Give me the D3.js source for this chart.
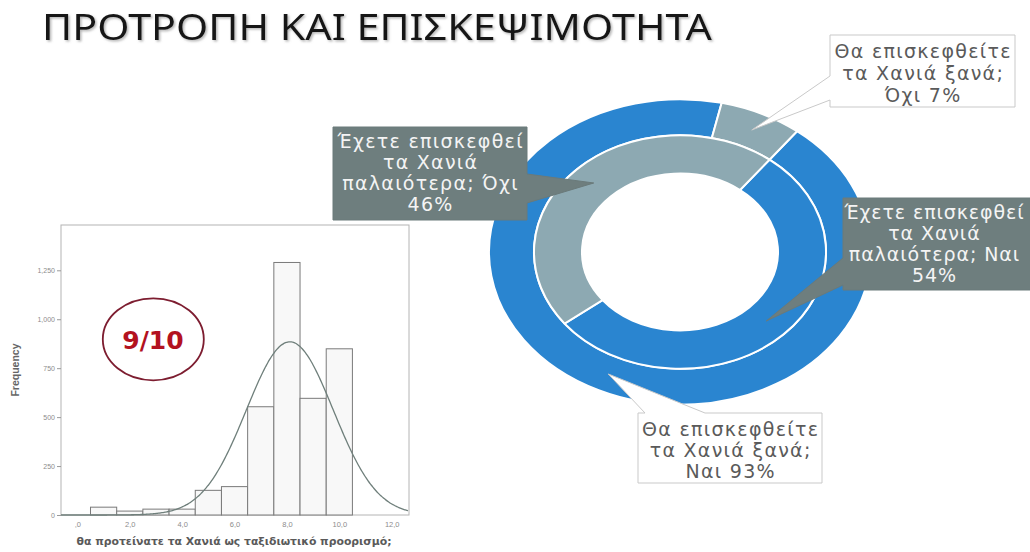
<!DOCTYPE html>
<html>
<head>
<meta charset="utf-8">
<script src="https://cdn.jsdelivr.net/npm/d3@7"></script>
<style>
  html, body { margin: 0; padding: 0; background: #ffffff; }
  svg { display: block; }
</style>
</head>
<body>
<svg id="chart" width="1030" height="552"></svg>
<script>
const titleText = "ΠΡΟΤΡΟΠΗ ΚΑΙ ΕΠΙΣΚΕΨΙΜΟΤΗΤΑ";

// Histogram: recommendation score (1–10) and number of respondents per score
const scores = [1, 2, 3, 4, 5, 6, 7, 8, 9, 10];
const frequencies = [40, 20, 30, 30, 126, 145, 553, 1290, 596, 849];
const yTickValues = [0, 250, 500, 750, 1000, 1250];
const yTickLabels = ["0", "250", "500", "750", "1,000", "1,250"];
const xTickValues = [0, 2, 4, 6, 8, 10, 12];
const xTickLabels = [",0", "2,0", "4,0", "6,0", "8,0", "10,0", "12,0"];
const xAxisTitle = "θα προτείνατε τα Χανιά ως ταξιδιωτικό προορισμό;";
const yAxisTitle = "Frequency";
const badgeText = "9/10";

// Donut rings: outer = intention to revisit, inner = previous visit
const answers = ["Ναι", "Όχι"];
const revisitShares = [93, 7];
const visitedShares = [54, 46];
const revisitQuestion = ["Θα επισκεφθείτε", "τα Χανιά ξανά;"];
const visitedQuestion = ["Έχετε επισκεφθεί", "τα Χανιά", "παλαιότερα;"];

const svg = d3.select("#chart");
const defs = svg.append("defs");

// soft drop shadow under the title
const shadow = defs.append("filter").attr("id", "titleShadow")
  .attr("x", "-5%").attr("y", "-30%").attr("width", "110%").attr("height", "160%");
shadow.append("feDropShadow").attr("dx", 1.5).attr("dy", 1.5)
  .attr("stdDeviation", 1.2).attr("flood-color", "#777").attr("flood-opacity", 0.55);

// ---------- title ----------
svg.append("text")
  .attr("x", 42).attr("y", 39.5)
  .attr("font-family", "'Noto Sans', 'Open Sans', sans-serif")
  .attr("font-size", 36)
  .attr("fill", "#161616")
  .attr("textLength", 670).attr("lengthAdjust", "spacingAndGlyphs")
  .attr("filter", "url(#titleShadow)")
  .text(titleText);

// ---------- histogram ----------
const frame = { left: 61, right: 409, top: 225, bottom: 515 };
const x = d3.scaleLinear().domain([0, 12]).range([77.4, 391.7]);
const y = d3.scaleLinear().domain([0, 1250]).range([frame.bottom, 270.3]);

const hist = svg.append("g");

hist.append("rect")
  .attr("x", frame.left).attr("y", frame.top)
  .attr("width", frame.right - frame.left).attr("height", frame.bottom - frame.top)
  .attr("fill", "#ffffff").attr("stroke", "#b4b4b4").attr("stroke-width", 1);

const bins = scores.map((s, i) => ({ score: s, freq: frequencies[i] }));
hist.selectAll("rect.bar").data(bins).enter().append("rect")
  .attr("class", "bar")
  .attr("x", d => x(d.score - 0.5))
  .attr("width", d => x(d.score + 0.5) - x(d.score - 0.5))
  .attr("y", d => y(d.freq))
  .attr("height", d => y(0) - y(d.freq))
  .attr("fill", "#f8f8f8")
  .attr("stroke", "#7a7a7a").attr("stroke-width", 1);

// fitted normal curve from the binned data
const total = d3.sum(frequencies);
const mean = d3.sum(bins, d => d.score * d.freq) / total;
const sd = Math.sqrt(d3.sum(bins, d => d.freq * (d.score - mean) ** 2) / total);
const density = v => total / (sd * Math.sqrt(2 * Math.PI)) * Math.exp(-0.5 * ((v - mean) / sd) ** 2);
const curveX = d3.range(x.invert(frame.left), x.invert(frame.right) + 0.001, 0.05);
hist.append("path")
  .datum(curveX)
  .attr("d", d3.line().x(v => x(v)).y(v => y(density(v))).curve(d3.curveBasis))
  .attr("fill", "none").attr("stroke", "#6f7f7b").attr("stroke-width", 1.3);

// y axis
const yAxis = d3.axisLeft(y).tickValues(yTickValues)
  .tickFormat((d, i) => yTickLabels[i]).tickSize(4).tickPadding(2);
const yg = hist.append("g").attr("transform", `translate(${frame.left},0)`).call(yAxis);
yg.select(".domain").remove();
yg.selectAll("line").attr("stroke", "#9a9a9a");
yg.selectAll("text").attr("fill", "#8c8c8c").attr("font-size", 7)
  .attr("font-family", "'Liberation Sans', Arial, sans-serif");

// x axis
const xAxis = d3.axisBottom(x).tickValues(xTickValues)
  .tickFormat((d, i) => xTickLabels[i]).tickSize(0).tickPadding(7);
const xg = hist.append("g").attr("transform", `translate(0,${frame.bottom})`).call(xAxis);
xg.select(".domain").remove();
xg.selectAll("text").attr("fill", "#8c8c8c").attr("font-size", 7.5)
  .attr("font-family", "'Liberation Sans', Arial, sans-serif");

hist.append("text")
  .attr("x", 234).attr("y", 545)
  .attr("text-anchor", "middle")
  .attr("font-family", "'DejaVu Sans', Verdana, sans-serif")
  .attr("font-weight", "bold").attr("font-size", 10.5)
  .attr("fill", "#5a5a5a")
  .attr("textLength", 315).attr("lengthAdjust", "spacingAndGlyphs")
  .text(xAxisTitle);

hist.append("text")
  .attr("transform", "translate(18.5,370) rotate(-90)")
  .attr("text-anchor", "middle")
  .attr("font-family", "'Liberation Sans', Arial, sans-serif")
  .attr("font-weight", "bold").attr("font-size", 10.5)
  .attr("fill", "#666")
  .text(yAxisTitle);

// highlighted average score
hist.append("ellipse")
  .attr("cx", 153.3).attr("cy", 339.3).attr("rx", 50.5).attr("ry", 41)
  .attr("fill", "none").attr("stroke", "#7d1d30").attr("stroke-width", 1.8);
hist.append("text")
  .attr("x", 153).attr("y", 349)
  .attr("text-anchor", "middle")
  .attr("font-family", "'DejaVu Sans', Verdana, sans-serif")
  .attr("font-weight", "bold").attr("font-size", 25)
  .attr("fill", "#b3121f")
  .text(badgeText);

// ---------- donut ----------
const center = { x: 680, y: 252 };
const squash = 0.8;
const radius = { hole: 98, mid: 146, outer: 191 };
const blue = "#2a85d0";
const grey = "#8da9b2";
const startAngle = 37.8 * Math.PI / 180;

const pie = d3.pie().sort(null).value(d => d.value)
  .startAngle(startAngle).endAngle(startAngle + 2 * Math.PI);

const rings = [
  { key: "revisit", shares: revisitShares, inner: radius.mid, outer: radius.outer },
  { key: "visited", shares: visitedShares, inner: radius.hole, outer: radius.mid }
];
const colourFor = ans => ans === "Ναι" ? blue : grey;

const donut = svg.append("g")
  .attr("transform", `translate(${center.x},${center.y}) scale(1,${squash})`);

const slices = {};
rings.forEach(ring => {
  const arc = d3.arc().innerRadius(ring.inner).outerRadius(ring.outer);
  const data = pie(answers.map((a, i) => ({ answer: a, value: ring.shares[i] })));
  donut.append("g").selectAll("path").data(data).enter().append("path")
    .attr("d", arc)
    .attr("fill", d => colourFor(d.data.answer))
    .attr("stroke", "#ffffff").attr("stroke-width", 2)
    .attr("vector-effect", "non-scaling-stroke");
  data.forEach(d => {
    const c = arc.centroid(d);
    slices[ring.key + d.data.answer] = {
      tip: [center.x + c[0], center.y + c[1] * squash],
      value: d.data.value
    };
  });
});

// ---------- callouts ----------
const callouts = [
  { slice: "revisitΝαι", lines: v => [...revisitQuestion, `Ναι ${v}%`],
    box: { x: 638, y: 413, w: 184, h: 70 }, side: "top", base: [645, 705], dark: false,
    first: 22.5, lh: 21, textX: 730, spacing: 1.3 },
  { slice: "revisitΌχι", lines: v => [...revisitQuestion, `Όχι ${v}%`],
    box: { x: 830, y: 35, w: 185, h: 72 }, side: "left", base: [76, 100], dark: false,
    first: 22.5, lh: 22, textX: 922.5, spacing: 1.3 },
  { slice: "visitedΝαι", lines: v => [visitedQuestion[0], visitedQuestion[1], `${visitedQuestion[2]} Ναι`, `${v}%`],
    box: { x: 843, y: 198, w: 192, h: 92 }, side: "left", base: [258, 285], dark: true,
    first: 20.5, lh: 21, textX: 934, spacing: 0.9 },
  { slice: "visitedΌχι", lines: v => [visitedQuestion[0], visitedQuestion[1], `${visitedQuestion[2]} Όχι`, `${v}%`],
    box: { x: 333, y: 127, w: 194, h: 93 }, side: "right", base: [174, 203], dark: true,
    first: 20.5, lh: 21, textX: 430, spacing: 1.3 }
];

function calloutPath(c, tip) {
  const { x: l, y: t, w, h } = c.box;
  const r = l + w, b = t + h;
  const p = d3.path();
  if (c.side === "top") {
    p.moveTo(l, t); p.lineTo(c.base[0], t); p.lineTo(tip[0], tip[1]); p.lineTo(c.base[1], t);
    p.lineTo(r, t); p.lineTo(r, b); p.lineTo(l, b);
  } else if (c.side === "left") {
    p.moveTo(l, t); p.lineTo(r, t); p.lineTo(r, b); p.lineTo(l, b);
    p.lineTo(l, c.base[1]); p.lineTo(tip[0], tip[1]); p.lineTo(l, c.base[0]);
  } else {
    p.moveTo(l, t); p.lineTo(r, t); p.lineTo(r, c.base[0]); p.lineTo(tip[0], tip[1]);
    p.lineTo(r, c.base[1]); p.lineTo(r, b); p.lineTo(l, b);
  }
  p.closePath();
  return p.toString();
}

const cg = svg.append("g");
callouts.forEach(c => {
  const s = slices[c.slice];
  cg.append("path")
    .attr("d", calloutPath(c, s.tip))
    .attr("fill", c.dark ? "#6e7e7e" : "#ffffff")
    .attr("stroke", c.dark ? "#6a7a7a" : "#c9c9c9")
    .attr("stroke-width", 1)
    .attr("stroke-linejoin", "miter");
  const t = cg.append("text")
    .attr("text-anchor", "middle")
    .attr("font-family", "'DejaVu Sans', Verdana, sans-serif")
    .attr("font-size", 19)
    .attr("letter-spacing", c.spacing)
    .attr("fill", c.dark ? "#f4f4f4" : "#5a5a5a");
  c.lines(s.value).forEach((line, i) => {
    t.append("tspan")
      .attr("x", c.textX + c.spacing / 2)
      .attr("y", c.box.y + c.first + i * c.lh)
      .text(line);
  });
});
</script>
</body>
</html>
